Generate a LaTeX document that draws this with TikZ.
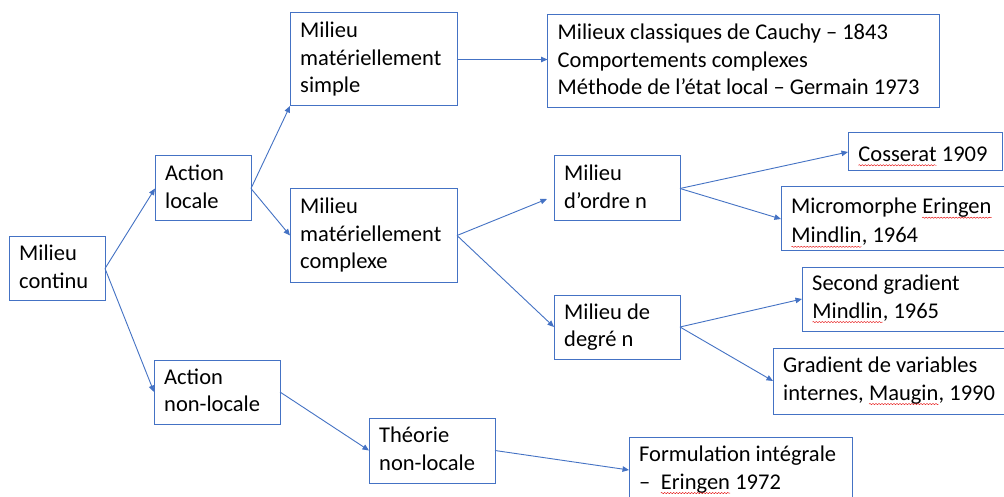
\documentclass[tikz,border=0pt]{standalone}
\usepackage{fontspec}
\setmainfont{Carlito}
\usetikzlibrary{arrows.meta,decorations.pathmorphing}
\definecolor{bord}{HTML}{4472C4}
\newcommand\wv[1]{\tikz[baseline=(wvw.base)]{\node[inner sep=0pt,outer sep=0pt,anchor=base west,execute at begin node={},execute at end node={}] (wvw) at (0,0) {#1};
  \draw[red!90!black,line width=0.4pt,decorate,decoration={snake,amplitude=0.6pt,segment length=3pt}] ([yshift=-3.8pt]wvw.base west) -- ([yshift=-3.8pt]wvw.base east);}}
\newcommand\mystrut{\rule[-4pt]{0pt}{27.5pt}}
\begin{document}
\begin{tikzpicture}[x=1pt,y=-1pt,
  box/.style={draw=bord,line width=1pt,rectangle,inner sep=0pt,outer sep=0pt},
  txt/.style={anchor=west,align=left,inner sep=0pt,font={\fontsize{22.5}{27.5}\selectfont},
    execute at begin node=\mystrut,execute at end node=\mystrut},
  conn/.style={draw=bord,line width=0.9pt,-{Triangle[length=6.5pt,width=5.5pt]}}]
\useasboundingbox (0,0) rectangle (1004,497);
\clip (0,0) rectangle (1004,497);
\fill[white] (0,0) rectangle (1004,497);

% boxes
\node[box,minimum width=96pt,minimum height=63pt]  (cont) at (57,268.5) {};
\node[box,minimum width=96pt,minimum height=65pt]  (aloc) at (203,188.5) {};
\node[box,minimum width=167pt,minimum height=93pt] (simp) at (373.5,59.5) {};
\node[box,minimum width=167pt,minimum height=93pt] (comp) at (373.5,235.5) {};
\node[box,minimum width=392pt,minimum height=93pt] (clas) at (743.5,61.5) {};
\node[box,minimum width=126pt,minimum height=65pt] (ordr) at (617,188.5) {};
\node[box,minimum width=126pt,minimum height=64pt] (degr) at (617,327) {};
\node[box,minimum width=154pt,minimum height=38pt] (coss) at (925,152) {};
\node[box,minimum width=229pt,minimum height=64pt] (micr) at (895.5,219) {};
\node[box,minimum width=208pt,minimum height=64pt] (secg) at (906,299) {};
\node[box,minimum width=237pt,minimum height=66pt] (grad) at (891.5,381) {};
\node[box,minimum width=126pt,minimum height=64pt] (anl)  at (217,392) {};
\node[box,minimum width=126pt,minimum height=65pt] (theo) at (432,450.5) {};
\node[box,minimum width=223pt,minimum height=66pt] (form) at (740.5,470) {};

% texts
\node[txt] (cont-t) at ([xshift=10pt]cont.west) {Milieu\\continu};
\node[txt] (aloc-t) at ([xshift=10pt]aloc.west) {Action\\locale};
\node[txt] (simp-t) at ([xshift=10pt]simp.west) {Milieu\\matériellement\\simple};
\node[txt] (comp-t) at ([xshift=10pt]comp.west) {Milieu\\matériellement\\complexe};
\node[txt] (clas-t) at ([xshift=10pt]clas.west) {Milieux classiques de Cauchy – 1843\\Comportements complexes\\Méthode de l’état local – Germain 1973};
\node[txt] (ordr-t) at ([xshift=10pt]ordr.west) {Milieu\\d’ordre n};
\node[txt] (degr-t) at ([xshift=10pt]degr.west) {Milieu de\\degré n};
\node[txt] (coss-t) at ([xshift=10pt]coss.west) {\wv{Cosserat} 1909};
\node[txt] (micr-t) at ([xshift=10pt]micr.west) {Micromorphe \wv{Eringen}\\\wv{Mindlin}, 1964};
\node[txt] (secg-t) at ([xshift=10pt]secg.west) {Second gradient\\\wv{Mindlin}, 1965};
\node[txt] (grad-t) at ([xshift=10pt]grad.west) {Gradient de variables\\internes, \wv{Maugin}, 1990};
\node[txt] (anl-t)  at ([xshift=10pt]anl.west)  {Action\\non-locale};
\node[txt] (theo-t) at ([xshift=10pt]theo.west) {Théorie\\non-locale};
\node[txt] (form-t) at ([xshift=10pt]form.west) {Formulation intégrale\\–\ \ \wv{Eringen} 1972};

% connectors
\draw[conn] (cont.east) -- (aloc.west);
\draw[conn] (cont.east) -- (anl.west);
\draw[conn] (aloc.east) -- (simp.south west);
\draw[conn] (aloc.east) -- (comp.west);
\draw[conn] (simp.east) -- (clas.west |- simp.east);
\draw[conn] (comp.east) -- ([xshift=-7pt,yshift=-10.5pt]ordr.west);
\draw[conn] (comp.east) -- (degr.west);
\draw[conn] (ordr.east) -- (coss.west);
\draw[conn] (ordr.east) -- (micr.west);
\draw[conn] (degr.east) -- (secg.west);
\draw[conn] (degr.east) -- (grad.west);
\draw[conn] (anl.east) -- (theo.west);
\draw[conn] (theo.east) -- (form.west);
\end{tikzpicture}
\end{document}
